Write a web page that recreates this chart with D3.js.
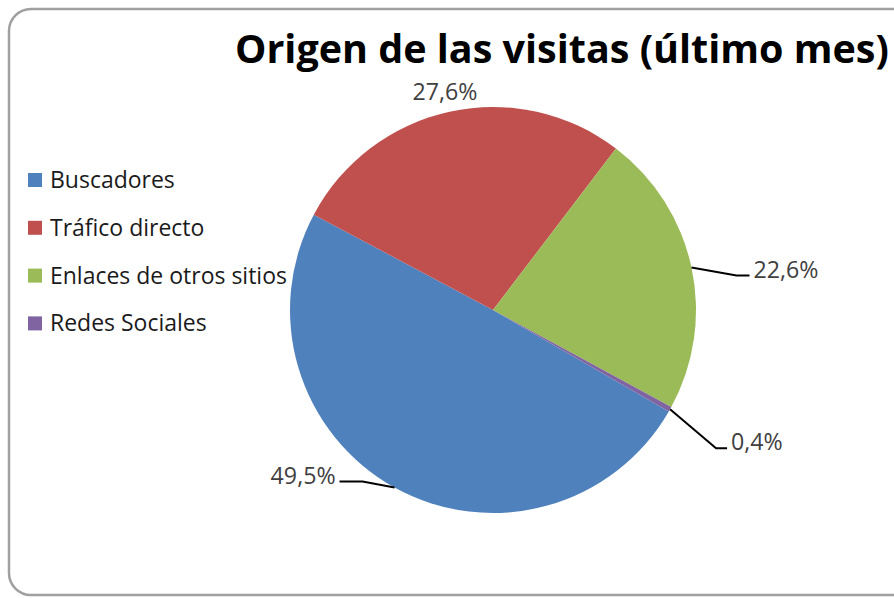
<!DOCTYPE html>
<html>
<head>
<meta charset="utf-8">
<script src="https://cdn.jsdelivr.net/npm/d3@7"></script>
<style>
  body { margin: 0; background: #fff; }
  text { font-family: "Open Sans", "Noto Sans", sans-serif; }
</style>
</head>
<body>
<svg id="chart" width="894" height="598"></svg>
<script>
var
  categories = ['Buscadores', 'Tráfico directo', 'Enlaces de otros sitios', 'Redes Sociales'],
  values = [49.5, 27.6, 22.6, 0.4],
  valueLabels = ['49,5%', '27,6%', '22,6%', '0,4%'],
  colors = ['#4F81BD', '#C0504D', '#9BBB59', '#8064A2'],
  title = 'Origen de las visitas (último mes)'
  ;

// label placement (Excel "best fit"), offsets from the slice's outer midpoint
var labelLayout = [
  {elbow: [-32, -6], end: [-23, 0], anchor: 'end'},
  {leader: false, radius: 225},
  {elbow: [45, 8], end: [13, 0], anchor: 'start'},
  {elbow: [46, 39], end: [11, 0], anchor: 'start'}
];

var
  svg = d3.select('#chart'),
  cx = 493, cy = 310, r = 203,
  deg = Math.PI / 180
  ;

// frame
svg.append('rect')
  .attr('x', 9).attr('y', 9)
  .attr('width', 910).attr('height', 586)
  .attr('rx', 22).attr('ry', 22)
  .attr('fill', '#fff')
  .attr('stroke', '#a0a0a0')
  .attr('stroke-width', 2.5);

// fit a text element to a target width
function fitWidth(sel, width){
  var fs = parseFloat(sel.attr('font-size'));
  var w = sel.node().getComputedTextLength();
  sel.attr('font-size', fs * width / w);
}

svg.append('text')
  .attr('x', 235).attr('y', 63)
  .attr('font-size', 40)
  .attr('font-weight', 'bold')
  .attr('fill', '#000')
  .text(title)
  .call(fitWidth, 654);

// pie
var pie = d3.pie().sort(null).value(function(d){ return d; })
  .startAngle(120 * deg).endAngle(480 * deg);
var arcs = pie(values);
var arc = d3.arc().innerRadius(0).outerRadius(r);
var edge = d3.arc().innerRadius(r).outerRadius(r);

var g = svg.append('g').attr('transform', 'translate(' + cx + ',' + cy + ')');

g.selectAll('path.slice')
  .data(arcs)
  .enter().append('path')
  .attr('class', 'slice')
  .attr('d', arc)
  .attr('fill', function(d, i){ return colors[i]; });

// data label size: "22,6%" is about 65px wide in the reference
var probe = svg.append('text').attr('font-size', 20).text(valueLabels[2]);
probe.call(fitWidth, 65);
var fsLabel = probe.attr('font-size');
probe.remove();

arcs.forEach(function(d, i){
  var lay = labelLayout[i];
  var mid = (d.startAngle + d.endAngle) / 2;
  if(lay.leader === false){
    var lr = lay.radius;
    g.append('text')
      .attr('x', Math.sin(mid) * lr)
      .attr('y', -Math.cos(mid) * lr)
      .attr('dy', '0.4em')
      .attr('text-anchor', 'middle')
      .attr('font-size', fsLabel)
      .attr('fill', '#404040')
      .text(valueLabels[i]);
    return;
  }
  var p0 = edge.centroid(d),
      p1 = [p0[0] + lay.elbow[0], p0[1] + lay.elbow[1]],
      p2 = [p1[0] + lay.end[0], p1[1] + lay.end[1]];
  g.append('path')
    .attr('d', d3.line()([p0, p1, p2]))
    .attr('fill', 'none')
    .attr('stroke', '#000')
    .attr('stroke-width', 2);
  g.append('text')
    .attr('x', p2[0] + (lay.anchor === 'start' ? 4 : -4))
    .attr('y', p2[1] - 6)
    .attr('dy', '0.35em')
    .attr('text-anchor', lay.anchor)
    .attr('font-size', fsLabel)
    .attr('fill', '#404040')
    .text(valueLabels[i]);
});

// legend
var legend = svg.append('g').attr('transform', 'translate(28,180)');
var rows = legend.selectAll('g')
  .data(categories)
  .enter().append('g')
  .attr('transform', function(d, i){ return 'translate(0,' + (i * 47.8) + ')'; });

rows.append('rect')
  .attr('x', 0).attr('y', -7)
  .attr('width', 14).attr('height', 14)
  .attr('fill', function(d, i){ return colors[i]; });

rows.append('text')
  .attr('x', 22)
  .attr('y', 0)
  .attr('dy', '0.35em')
  .attr('font-size', 19)
  .attr('fill', '#1a1a1a')
  .text(function(d){ return d; });

rows.filter(function(d, i){ return i === 2; }).select('text').call(fitWidth, 237);
var fsLegend = rows.filter(function(d, i){ return i === 2; }).select('text').attr('font-size');
rows.selectAll('text').attr('font-size', fsLegend);
</script>
</body>
</html>
